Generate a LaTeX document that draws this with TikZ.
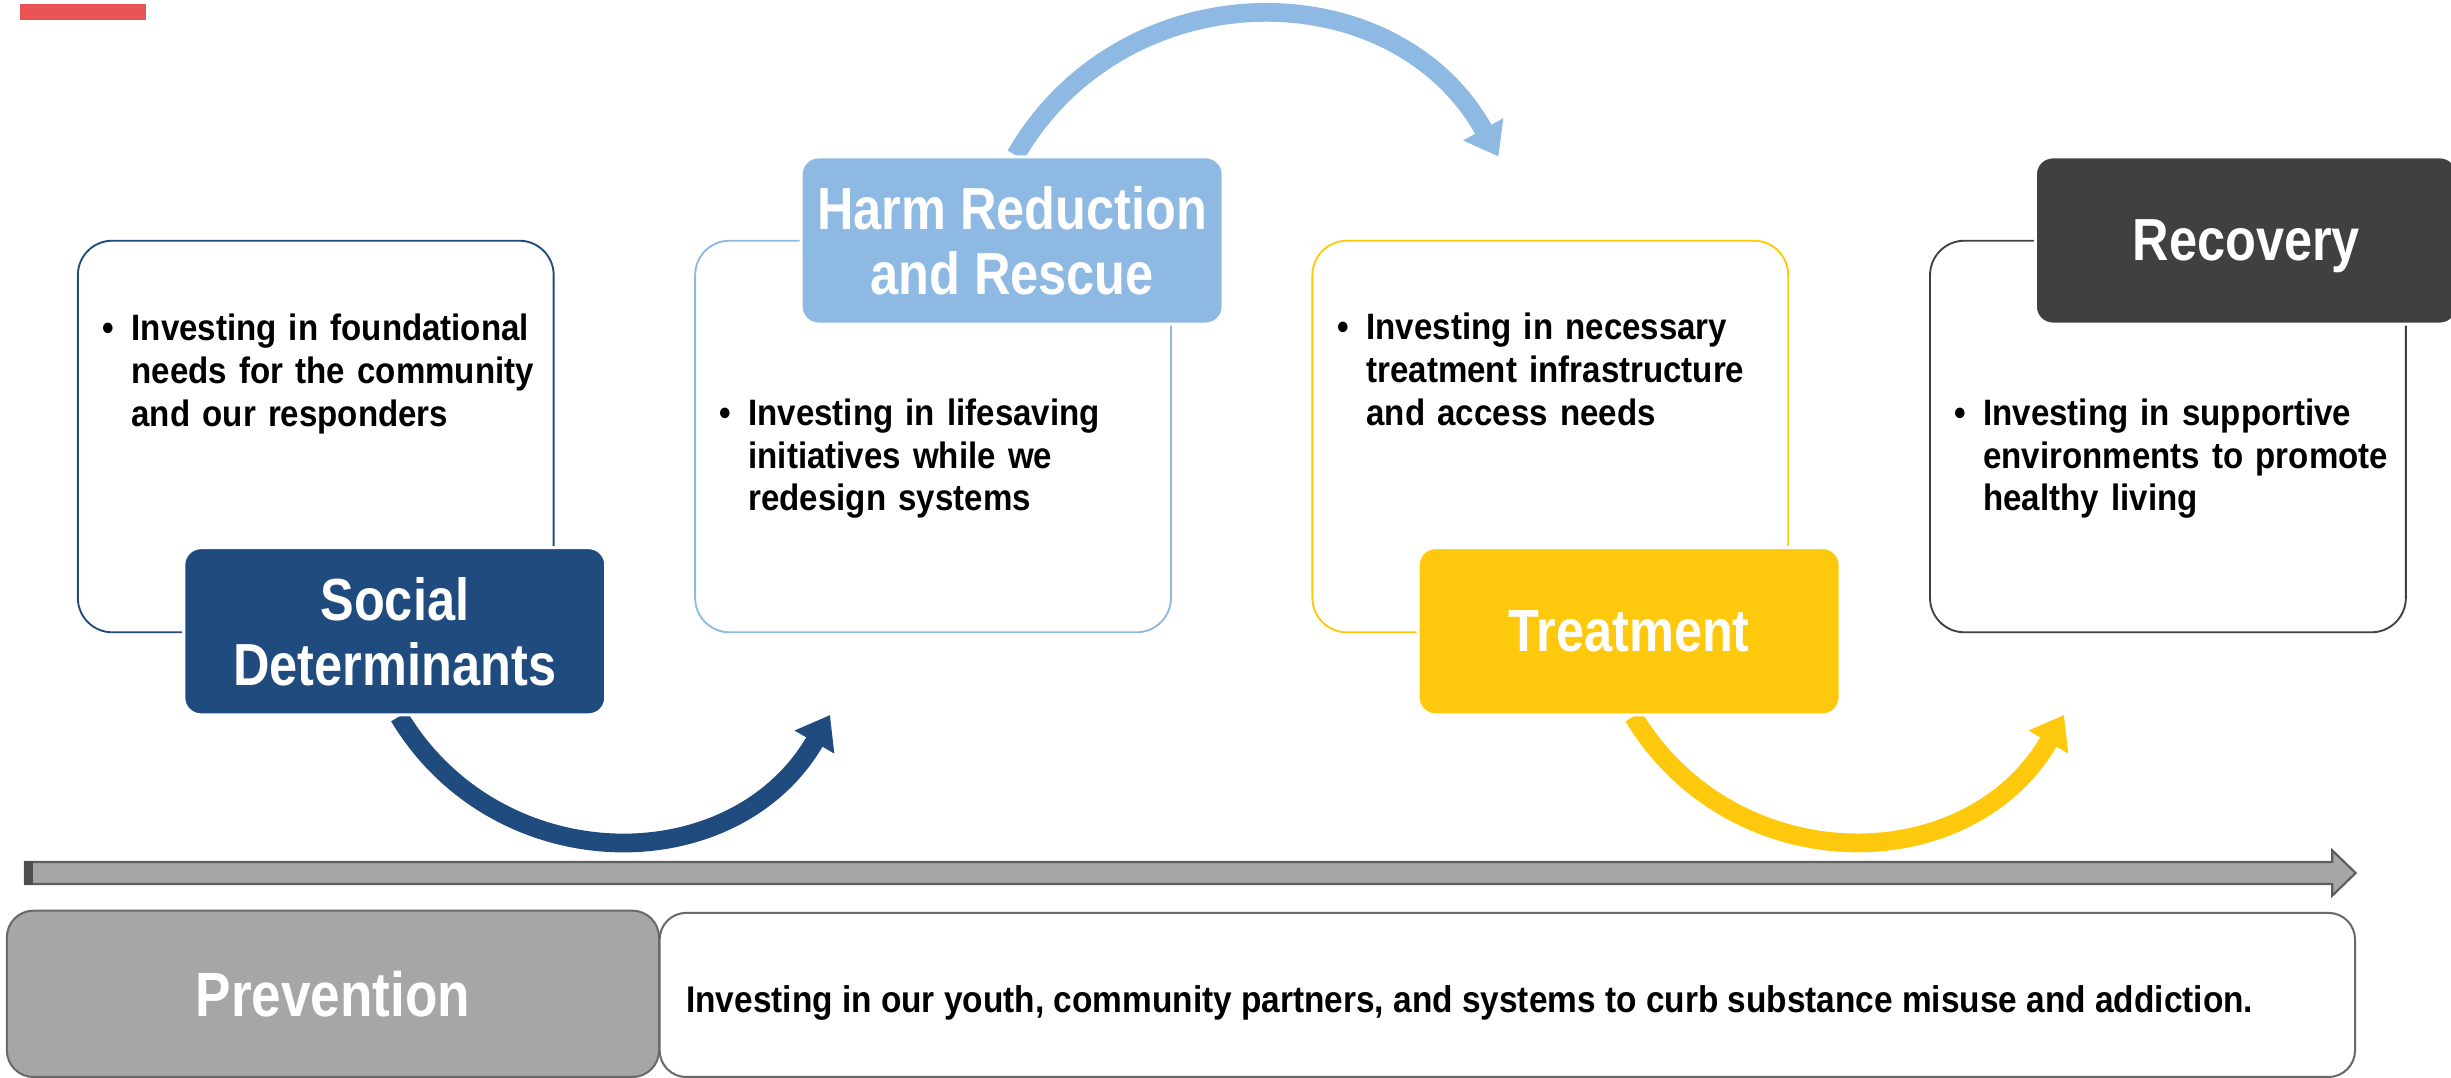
\documentclass[tikz,border=0pt]{standalone}
\usepackage{fontspec}
\setmainfont{Liberation Sans}[FakeStretch=0.9]
\newfontfamily\lblfont{Liberation Sans}[FakeStretch=0.85]
\usepackage{tikz}
\usetikzlibrary{arrows.meta}
\usetikzlibrary{backgrounds}
\usepackage{xcolor}
\definecolor{sdblue}{RGB}{32,75,126}
\definecolor{hrblue}{RGB}{142,185,226}
\definecolor{trgold}{RGB}{254,200,12}
\definecolor{rcgray}{RGB}{64,64,64}
\definecolor{pvgray}{RGB}{166,166,166}
\definecolor{edgegray}{RGB}{105,105,105}
\definecolor{markred}{RGB}{233,83,86}
\tikzset{
    cbox/.style={draw=#1, line width=1.2pt, rounded corners=22pt, minimum width=304.4pt, minimum height=250.5pt, inner sep=0pt},
    lbl/.style={fill=#1, draw=white, line width=2pt, rounded corners=11pt, minimum width=270pt, minimum height=107pt, inner sep=0pt, text depth=0pt, text=white, align=center, font=\lblfont\bfseries\fontsize{38}{41.5}\selectfont},
    btext/.style={anchor=base west, inner sep=0pt, text width=300pt, font=\bfseries\fontsize{23.5}{27.5}\selectfont},
    pbox/.style={draw=edgegray, line width=1.3pt, rounded corners=17pt, inner sep=0pt},
    flow/.style={draw=#1, line width=12pt, -{Triangle[length=20pt,width=28pt]}, looseness=1.137},
    timeline/.style={draw=edgegray!90!black, line width=1.4pt, fill=pvgray},
}
\newcommand{\bul}{\llap{\makebox[18.7pt][l]{\textbullet}}}
\begin{document}
        \begin{tikzpicture}[x=1pt, y=1pt]
            \useasboundingbox (0.000, 0.000) rectangle (1568.000, -689.640);

            \fill[markred] (13.000, -2.600) rectangle (93.400, -12.800);

            \node[cbox=sdblue] (sd_box) at (202.000, -279.250) {};
            \node[cbox=hrblue] (hr_box) at (596.900, -279.250) {};
            \node[cbox=trgold] (tr_box) at (991.800, -279.250) {};
            \node[cbox=rcgray] (rc_box) at (1386.900, -279.250) {};

            \node[btext] (sd_txt) at (84.000, -218.000) {\bul Investing in foundational\\needs for the community\\and our responders};
            \node[btext] (hr_txt) at (478.600, -271.900) {\bul Investing in lifesaving\\initiatives while we\\redesign systems};
            \node[btext] (tr_txt) at (874.000, -217.500) {\bul Investing in necessary\\treatment infrastructure\\and access needs};
            \node[btext] (rc_txt) at (1268.600, -271.900) {\bul Investing in supportive\\environments to promote\\healthy living};

            \node[lbl=sdblue] (sd_lbl) at (252.550, -403.850) {Social\\Determinants};
            \node[lbl=hrblue] (hr_lbl) at (647.500, -153.850) {Harm Reduction\\and Rescue};
            \node[lbl=trgold] (tr_lbl) at (1042.200, -403.850) {Treatment};
            \node[lbl=rcgray] (rc_lbl) at (1437.100, -153.850) {Recovery};

            \coordinate (sd_tip) at (531.000, -457.400);
            \coordinate (hr_tip) at (958.600, -100.200);
            \coordinate (tr_tip) at (1320.400, -457.400);

            \begin{scope}[on background layer]
                \draw[flow=sdblue] ([xshift=2.8pt]sd_lbl.south) to[out=-59, in=240] (sd_tip);
                \draw[flow=hrblue] ([xshift=2.3pt]hr_lbl.north) to[out=60, in=119] (hr_tip);
                \draw[flow=trgold] ([xshift=2.8pt]tr_lbl.south) to[out=-59, in=240] (tr_tip);
            \end{scope}

            \draw[timeline] (16.000, -551.500) -- (1492.000, -551.500) -- (1492.000, -544.000) -- (1507.000, -558.500)
                -- (1492.000, -573.000) -- (1492.000, -565.500) -- (16.000, -565.500) -- cycle;
            \fill[edgegray!75!black] (15.600, -550.800) rectangle (21.300, -566.200);

            \node[pbox, fill=pvgray, minimum width=417.200pt, minimum height=106.400pt, text=white,
                font=\lblfont\bfseries\fontsize{40}{42}\selectfont] (pv_box) at (213.000, -635.800) {Prevention};
            \node[pbox, fill=white, minimum width=1084.600pt, minimum height=105.000pt] (ds_box) at (964.300, -636.500) {};
            \node[anchor=base west, inner sep=0pt, font=\bfseries\fontsize{23.75}{27.5}\selectfont] (ds_txt) at (438.800, -647.800)
                {Investing in our youth, community partners, and systems to curb substance misuse and addiction.};
        \end{tikzpicture}
\end{document}
